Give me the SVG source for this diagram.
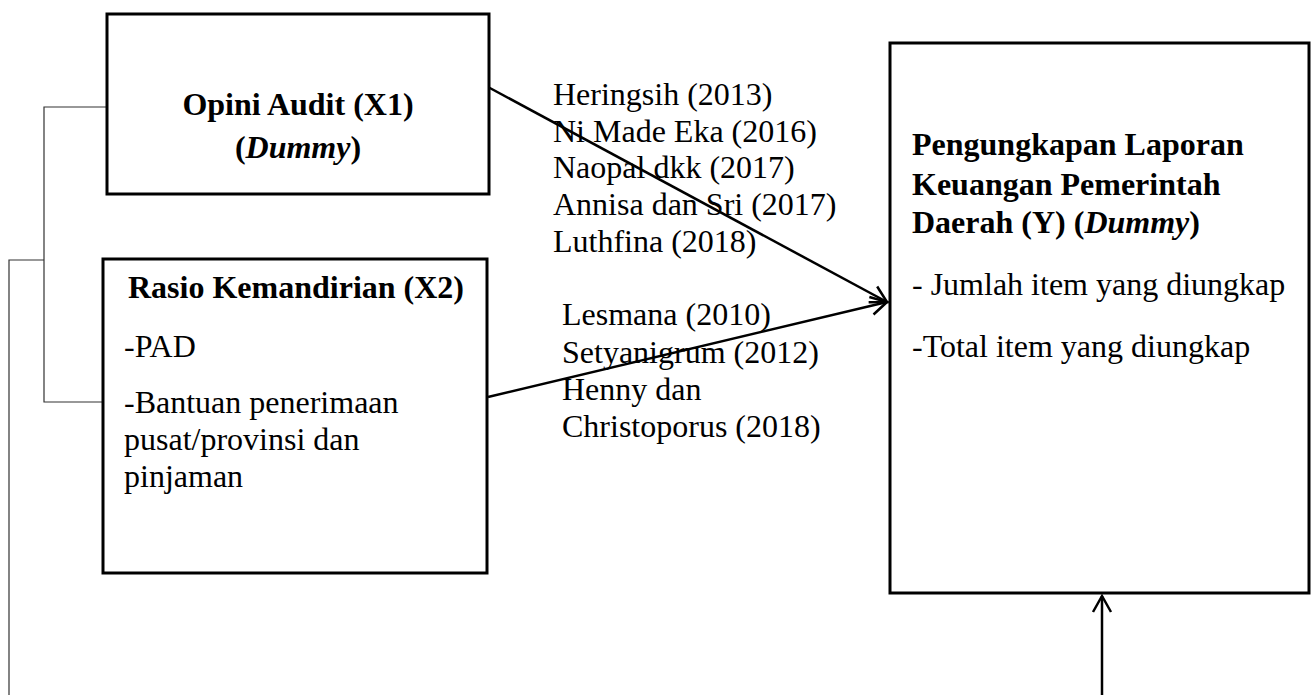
<svg xmlns="http://www.w3.org/2000/svg" width="1314" height="695" viewBox="0 0 1314 695">
  <style>
    .box { fill: #ffffff; stroke: #000000; stroke-width: 3; }
    .t { font-family: "Liberation Serif", "Times New Roman", serif; font-size: 32px; fill: #000000; }
    .b { font-weight: bold; }
    .conn { stroke: #000000; stroke-width: 2.5; fill: none; }
    .thin { stroke: #333333; stroke-width: 1.2; fill: none; }
  </style>
  <defs>
    <marker id="arr" markerUnits="userSpaceOnUse" markerWidth="24" markerHeight="24" refX="19" refY="12" orient="auto" overflow="visible">
      <path d="M3,3 L19,12 L3,21" fill="none" stroke="#000" stroke-width="2.5"/>
    </marker>
  </defs>
  <rect width="1314" height="695" fill="#ffffff"/>

  <g id="connectors">
    <polyline class="thin" points="107,107 44,107 44,402 107,402"/>
    <polyline class="thin" points="44,260 9,260 9,695"/>
    <line class="conn" x1="488" y1="87" x2="887" y2="302" marker-end="url(#arr)"/>
    <line class="conn" x1="488" y1="397" x2="887" y2="302" marker-end="url(#arr)"/>
    <line class="conn" x1="1102" y1="695" x2="1102" y2="596" marker-end="url(#arr)"/>
  </g>

  <g id="node-x1">
    <rect class="box" x="107" y="14" width="382" height="180"/>
    <text class="t b" x="298" y="115" text-anchor="middle">Opini Audit (X1)</text>
    <text class="t b" x="298" y="158" text-anchor="middle">(<tspan font-style="italic">Dummy</tspan>)</text>
  </g>

  <g id="node-x2">
    <rect class="box" x="103" y="259" width="384" height="314"/>
    <text class="t b" x="128" y="298">Rasio Kemandirian (X2)</text>
    <text class="t" x="124" y="357">-PAD</text>
    <text class="t" x="124" y="413">-Bantuan penerimaan</text>
    <text class="t" x="124" y="450">pusat/provinsi dan</text>
    <text class="t" x="124" y="487">pinjaman</text>
  </g>

  <g id="node-y">
    <rect class="box" x="890" y="43" width="419" height="550"/>
    <text class="t b" x="912" y="155">Pengungkapan Laporan</text>
    <text class="t b" x="912" y="195">Keuangan Pemerintah</text>
    <text class="t b" x="912" y="233">Daerah (Y) (<tspan font-style="italic">Dummy</tspan>)</text>
    <text class="t" x="912" y="295">- Jumlah item yang diungkap</text>
    <text class="t" x="912" y="357">-Total item yang diungkap</text>
  </g>

  <g id="label-x1">
    <text class="t" x="553" y="105">Heringsih (2013)</text>
    <text class="t" x="553" y="142">Ni Made Eka (2016)</text>
    <text class="t" x="553" y="178">Naopal dkk (2017)</text>
    <text class="t" x="553" y="215">Annisa dan Sri (2017)</text>
    <text class="t" x="553" y="252">Luthfina (2018)</text>
  </g>

  <g id="label-x2">
    <text class="t" x="562" y="325">Lesmana (2010)</text>
    <text class="t" x="562" y="363">Setyanigrum (2012)</text>
    <text class="t" x="562" y="400">Henny dan</text>
    <text class="t" x="562" y="437">Christoporus (2018)</text>
  </g>
</svg>
